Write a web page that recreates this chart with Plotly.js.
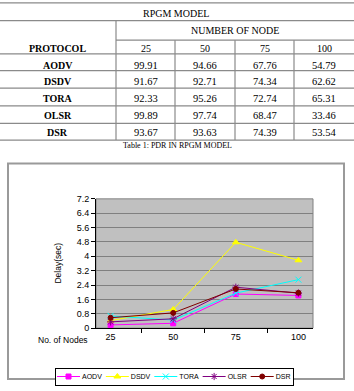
<!DOCTYPE html>
<html><head><meta charset="utf-8">
<script src="https://cdn.plot.ly/plotly-3.0.1.min.js"></script>
<style>html,body{margin:0;padding:0;background:#fff;overflow:hidden}#chart{width:354px;height:391px}</style>
</head><body><div id="chart"></div>
<script>
// ---------- data ----------
const tableTitle = 'RPGM MODEL';
const nodeHeader = 'NUMBER OF NODE';
const protocolHeader = 'PROTOCOL';
const nodeCounts = ['25', '50', '75', '100'];
const protocols = ['AODV', 'DSDV', 'TORA', 'OLSR', 'DSR'];
const pdrAODV = ['99.91', '94.66', '67.76', '54.79'];
const pdrDSDV = ['91.67', '92.71', '74.34', '62.62'];
const pdrTORA = ['92.33', '95.26', '72.74', '65.31'];
const pdrOLSR = ['99.89', '97.74', '68.47', '33.46'];
const pdrDSR  = ['93.67', '93.63', '74.39', '53.54'];
const tableCaption = 'Table 1: PDR IN RPGM MODEL';

const delayAODV = [0.18, 0.27, 1.90, 1.82];
const delayDSDV = [0.42, 1.04, 4.78, 3.78];
const delayTORA = [0.68, 0.45, 1.95, 2.70];
const delayOLSR = [0.35, 0.52, 2.28, 1.95];
const delayDSR  = [0.58, 0.85, 2.18, 1.97];
const yAxisTitle = 'Delay(sec)';
const xAxisLabel = 'No. of Nodes';

// ---------- layout helpers ----------
const W = 354, H = 391;
const px = x => x / W;
const py = y => 1 - y / H;
const serif = 'Liberation Serif, Times New Roman, serif';
const sans = 'Liberation Sans, Arial, sans-serif';

const pdrRows = [pdrAODV, pdrDSDV, pdrTORA, pdrOLSR, pdrDSR];
const colEdges = [0, 116, 175, 235, 294, 354];
const fullLines = [3, 21, 55, 72, 90, 108, 126, 143];
const partialLineY = 41;
const titleY = 14, nodeHeaderY = 31.5, headerY = 49.5;
const rowY = [66.5, 83.5, 100.5, 117.5, 135.5];
const lineStyle = {color: '#8a8a8a', width: 1.2};

const shapes = [];
const annotations = [];
fullLines.forEach(y => shapes.push({type: 'line', xref: 'paper', yref: 'paper',
  x0: 0, x1: 1, y0: py(y), y1: py(y), line: lineStyle}));
shapes.push({type: 'line', xref: 'paper', yref: 'paper', x0: px(colEdges[1]), x1: 1,
  y0: py(partialLineY), y1: py(partialLineY), line: lineStyle});
shapes.push({type: 'line', xref: 'paper', yref: 'paper', x0: px(colEdges[1]), x1: px(colEdges[1]),
  y0: py(fullLines[1]), y1: py(fullLines[fullLines.length - 1]), line: lineStyle});
for (let i = 2; i < colEdges.length - 1; i++) {
  shapes.push({type: 'line', xref: 'paper', yref: 'paper', x0: px(colEdges[i]), x1: px(colEdges[i]),
    y0: py(partialLineY), y1: py(fullLines[fullLines.length - 1]), line: lineStyle});
}
const colCenter = i => px((colEdges[i] + colEdges[i + 1]) / 2);
function txt(text, x, y, size, bold, family, extra) {
  return Object.assign({text: bold ? '<b>' + text + '</b>' : text, x: x, y: y, xref: 'paper', yref: 'paper',
    showarrow: false, xanchor: 'center', yanchor: 'middle',
    font: {family: family || serif, size: size, color: '#000'}}, extra || {});
}
annotations.push(txt(tableTitle, px(176), py(titleY), 10, false));
annotations.push(txt(nodeHeader, px(235), py(nodeHeaderY), 10, false));
annotations.push(txt(protocolHeader, colCenter(0), py(headerY), 10, true));
nodeCounts.forEach((n, j) => annotations.push(txt(n, colCenter(j + 1), py(headerY), 10, false)));
protocols.forEach((p, i) => {
  annotations.push(txt(p, colCenter(0), py(rowY[i]), 10, true));
  pdrRows[i].forEach((v, j) => annotations.push(txt(v, colCenter(j + 1), py(rowY[i]), 10.5, false)));
});
annotations.push(txt(tableCaption, px(177), py(148.5), 8, false));

// chart frame
shapes.push({type: 'rect', xref: 'paper', yref: 'paper', x0: px(8), x1: px(344), y0: py(167), y1: py(387),
  line: {color: '#9a9a9a', width: 2}, layer: 'below'});
// plot area border
shapes.push({type: 'rect', xref: 'x domain', yref: 'y domain', x0: 0, x1: 1, y0: 0, y1: 1,
  line: {color: '#808080', width: 1}, layer: 'below'});

annotations.push(txt(yAxisTitle, px(58), py(268), 8.5, false, sans, {textangle: -90}));
annotations.push(txt(xAxisLabel, px(63), py(347), 8.5, false, sans));

// ---------- traces ----------
const series = [
  {name: 'AODV', y: delayAODV, color: '#FF00FF', symbol: 'square', size: 5},
  {name: 'DSDV', y: delayDSDV, color: '#FFFF00', symbol: 'triangle-up', size: 6},
  {name: 'TORA', y: delayTORA, color: '#00FFFF', symbol: 'x-thin-open', size: 6},
  {name: 'OLSR', y: delayOLSR, color: '#800080', symbol: 'asterisk-open', size: 6},
  {name: 'DSR',  y: delayDSR,  color: '#800000', symbol: 'circle', size: 5}
];
const traces = series.map(s => ({
  type: 'scatter', mode: 'lines+markers', name: s.name, x: nodeCounts, y: s.y,
  line: {color: s.color, width: 1},
  marker: {color: s.color, symbol: s.symbol, size: s.size, line: {color: s.color, width: 1}}
}));

const legendBox = {left: 55, top: 368, height: 17};
const layout = {
  width: W, height: H, margin: {l: 0, r: 0, t: 0, b: 0}, autosize: false,
  paper_bgcolor: '#fff', plot_bgcolor: '#C0C0C0', showlegend: true,
  font: {family: sans, size: 9, color: '#000'},
  xaxis: {type: 'category', domain: [px(96), px(313)], anchor: 'y', tickson: 'boundaries',
    ticks: 'outside', ticklen: 4, tickcolor: '#000', showgrid: false, showline: true,
    linecolor: '#000', linewidth: 1, tickfont: {family: sans, size: 9}, fixedrange: true},
  yaxis: {domain: [py(335), py(203)], anchor: 'x', range: [0, 7.2], dtick: 0.8, tick0: 0,
    ticks: 'outside', ticklen: 4, tickcolor: '#000', showgrid: true, gridcolor: '#808080',
    gridwidth: 1, zeroline: false, showline: true, linecolor: '#000', linewidth: 1,
    tickfont: {family: sans, size: 9}, fixedrange: true},
  legend: {orientation: 'h', x: px(legendBox.left), y: py(legendBox.top), xanchor: 'left', yanchor: 'top',
    bgcolor: '#fff', bordercolor: '#000', borderwidth: 1,
    font: {family: sans, size: 7}, itemwidth: 30, tracegroupgap: 0},
  shapes: shapes, annotations: annotations
};

Plotly.newPlot('chart', traces, layout, {staticPlot: true, displayModeBar: false, responsive: false})
  .then(compactLegend);

// compact the legend entries so the box matches the reference width
function compactLegend() {
  const leg = document.querySelector('g.legend');
  if (!leg) return;
  const items = leg.querySelectorAll('.traces');
  const lineLen = 23, textX = 25, gap = 4, startX = 2;
  let x = startX;
  items.forEach(g => {
    g.querySelectorAll('.legendlines path').forEach(p => p.setAttribute('d', 'M0,0h' + lineLen));
    g.querySelectorAll('.legendpoints path').forEach(p => p.setAttribute('transform', 'translate(' + (lineLen / 2) + ',0)'));
    const t = g.querySelector('.legendtext');
    if (t) t.setAttribute('x', textX);
    const tw = t ? t.getComputedTextLength() : 20;
    g.setAttribute('transform', 'translate(' + x + ',' + (legendBox.height / 2) + ')');
    x += textX + tw + gap;
  });
  const totalW = x - gap + 3;
  leg.setAttribute('transform', 'translate(' + legendBox.left + ',' + legendBox.top + ')');
  const bg = leg.querySelector('rect.bg');
  if (bg) {
    bg.setAttribute('x', 0.5); bg.setAttribute('y', 0.5);
    bg.setAttribute('width', totalW); bg.setAttribute('height', legendBox.height);
  }
  const sb = leg.querySelector('.scrollbox');
  if (sb) sb.setAttribute('transform', 'translate(0,0)');
  const clip = document.querySelector('clipPath[id^="legend"] rect, clipPath[id*="legend"] rect');
  if (clip) { clip.setAttribute('width', totalW + 2); clip.setAttribute('height', legendBox.height + 2); clip.setAttribute('x', 0); clip.setAttribute('y', 0); }
}
</script>
</body></html>
